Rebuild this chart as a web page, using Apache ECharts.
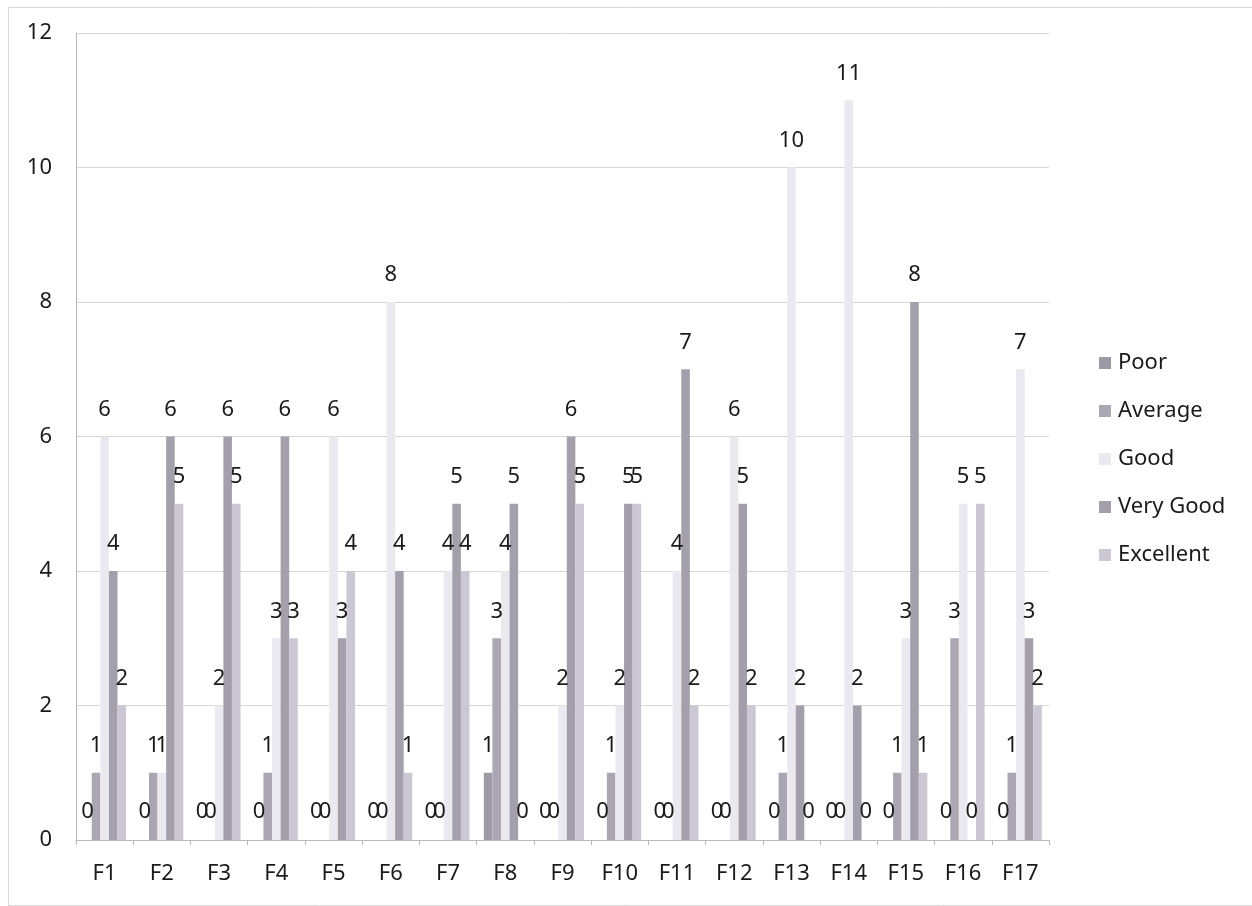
<!DOCTYPE html>
<html>
<head>
<meta charset="utf-8">
<script src="https://cdn.jsdelivr.net/npm/echarts@6/dist/echarts.min.js"></script>
<style>
html,body{margin:0;padding:0;background:#fff;}
#chart{width:1252px;height:906px;}
</style>
</head>
<body>
<div id="chart"></div>
<script>
const categories = ['F1','F2','F3','F4','F5','F6','F7','F8','F9','F10','F11','F12','F13','F14','F15','F16','F17'];
const seriesNames = ['Poor','Average','Good','Very Good','Excellent'];
const poor      = [0,0,0,0,0,0,0,1,0,0,0,0,0,0,0,0,0];
const average   = [1,1,0,1,0,0,0,3,0,1,0,0,1,0,1,3,1];
const good      = [6,1,2,3,6,8,4,4,2,2,4,6,10,11,3,5,7];
const veryGood  = [4,6,6,6,3,4,5,5,6,5,7,5,2,2,8,0,3];
const excellent = [2,5,5,3,4,1,4,0,5,5,2,2,0,0,1,5,2];
const yTicks = {min:0, max:12, interval:2};

const seriesData = [poor, average, good, veryGood, excellent];
const colors = ['#9d9aa5','#aaa7b2','#ebe9f0','#a3a0ab','#cbc8d3'];
const FONT = 'Noto Sans';

const chart = echarts.init(document.getElementById('chart'), null, {renderer:'canvas'});
chart.setOption({
  backgroundColor:'#ffffff',
  animation:false,
  color: colors,
  graphic:[{
    type:'rect', left:6, top:5, silent:true,
    shape:{width:1244, height:898},
    style:{fill:'none', stroke:'#d8d8d8', lineWidth:1}
  }],
  grid:{left:76, right:203, top:33, bottom:66, containLabel:false},
  legend:{
    orient:'vertical',
    left:1094, top:346,
    itemWidth:12, itemHeight:12, itemGap:24,
    icon:'rect',
    data: seriesNames,
    textStyle:{fontFamily:FONT, fontSize:22, color:'#1a1a1a', lineHeight:24, padding:[0,0,0,2]}
  },
  xAxis:{
    type:'category',
    data: categories,
    boundaryGap:true,
    axisLine:{show:true, lineStyle:{color:'#b8b8b8', width:1}},
    axisTick:{show:true, length:5, alignWithLabel:false, lineStyle:{color:'#b8b8b8'}},
    axisLabel:{fontFamily:FONT, fontSize:22, color:'#1a1a1a', margin:23},
    splitLine:{show:false}
  },
  yAxis:{
    type:'value',
    min:yTicks.min, max:yTicks.max, interval:yTicks.interval,
    axisLine:{show:true, lineStyle:{color:'#b8b8b8', width:1}},
    axisTick:{show:false},
    axisLabel:{fontFamily:FONT, fontSize:22, color:'#1a1a1a', margin:24},
    splitLine:{show:true, lineStyle:{color:'#d6d6d6', width:1}}
  },
  series: seriesNames.map((name,i)=>({
    name: name,
    type:'bar',
    data: seriesData[i].map(v => v === 0 ? {value:v, label:{offset:[0,-1]}} : v),
    barGap:'0%',
    barCategoryGap:'25%',
    itemStyle:{color: colors[i]},
    label:{
      show:true, position:'top', distance:16,
      fontFamily:FONT, fontSize:22, color:'#1a1a1a'
    }
  }))
});
</script>
</body>
</html>
